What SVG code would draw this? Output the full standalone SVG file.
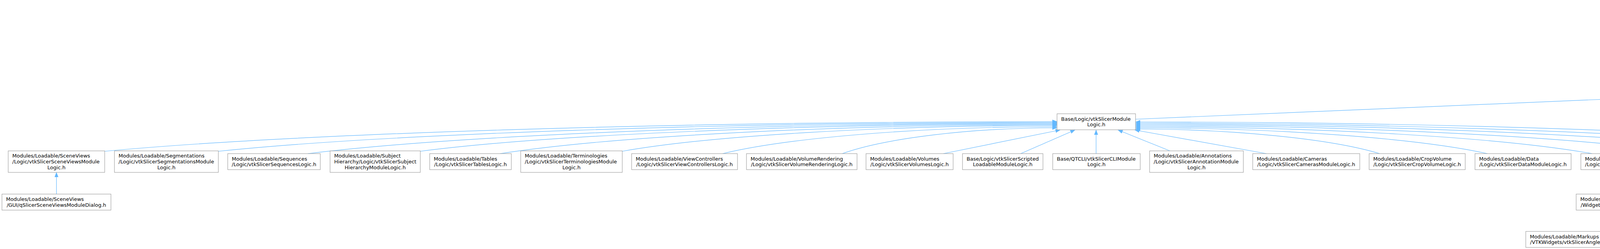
<svg xmlns="http://www.w3.org/2000/svg" width="6853" height="637" viewBox="0 0 6853 637">
<style>
.n rect{fill:#ffffff;stroke:#999999;stroke-width:1.1}
.n.root rect{fill:#999999;stroke:#666666}
.n text{font-family:"DejaVu Sans","Liberation Sans",sans-serif;font-size:13px;fill:#000000}
.n text.c{text-anchor:middle}
.e path{fill:none;stroke:#63b8ff;stroke-width:1.2;marker-end:url(#ah)}
</style>
<defs>
<marker id="ah" markerUnits="userSpaceOnUse" markerWidth="14" markerHeight="11" refX="12" refY="5" orient="auto"><path d="M0,0.4 L12,5 L0,9.6 z" fill="#63b8ff" stroke="#63b8ff" stroke-width="0.6"/></marker>
</defs>
<rect x="0" y="0" width="6853" height="637" fill="#ffffff"/>
<g id="connectors" class="e">
<path d="M5730,93 L5730,45.5"/>
<path d="M5223,190 L5598,134"/>
<path d="M5730,188 L5730,134"/>
<path d="M5957,181 L5798,134"/>
<path d="M2907,305 L4997,216"/>
<path d="M5115,393 L5110,229"/>
<path d="M268,387 C755.6,341.4 1730.8,311 2706,311"/>
<path d="M559,387 C988.4,342.6 1847.2,313 2706,313"/>
<path d="M788,393 C1171.6,346.2 1938.8,315 2706,315"/>
<path d="M1076,387 C1402,345 2054,317 2706,317"/>
<path d="M1280,393 C1565.2,348.6 2135.6,319 2706,319"/>
<path d="M1593,387 C1815.6,347.4 2260.8,321 2706,321"/>
<path d="M1850,393 C2021.2,351.6 2363.6,324 2706,324"/>
<path d="M2156,393 C2266,353.4 2486,327 2706,327"/>
<path d="M2415,393 L2714,332.5"/>
<path d="M2613,393 L2752,332.5"/>
<path d="M2806,393 L2806,332.5"/>
<path d="M2995,386 L2862,332.5"/>
<path d="M3242,393 L2905,332.5"/>
<path d="M3532,393 C3407,355.2 3157,330 2907,330"/>
<path d="M3808,393 C3627.8,353.4 3267.4,327 2907,327"/>
<path d="M4076,393 C3842.2,351.6 3374.6,324 2907,324"/>
<path d="M4321,393 C4038.2,349.8 3472.6,321 2907,321"/>
<path d="M4556,393 C4226.2,348 3566.6,318 2907,318"/>
<path d="M4782,393 C4407,346.2 3657,315 2907,315"/>
<path d="M5037,393 C4611,344.4 3759,312 2907,312"/>
<path d="M144.5,496.5 L144.5,441"/>
<path d="M4158,496.5 L4158,434"/>
<path d="M5401,284 L5642,229"/>
<path d="M5615,284 L5695,229"/>
<path d="M5860,291 L5766,229"/>
<path d="M6184,291 L5843,229"/>
<path d="M6032,386 C6060,330 6085,290 6050,275 C6000,255 5900,240 5853,229"/>
<path d="M5890,386 L5691,339"/>
<path d="M5536,386 L5378,339"/>
<path d="M4735,489.5 C4900,485 5200,480 5240,445 C5270,415 5278,370 5280,339"/>
<path d="M5052,496.5 L5495,436"/>
<path d="M5343,496.5 L5534,441"/>
<path d="M5628,496.5 L5628,441"/>
<path d="M5911,496.5 L5726,441"/>
<path d="M6201,496.5 L5762,437"/>
<path d="M6563,496.5 L5762,432"/>
<path d="M4181,592 L4472,544.5"/>
<path d="M4463,592 L4549,544.5"/>
<path d="M4742,592 L4656,544.5"/>
<path d="M5018,592 L4735,538"/>
<path d="M5491,600 L4735,541"/>
<path d="M5994,600 L4735,544"/>
<path d="M5718,592 L5902,537.5"/>
<path d="M6195,592 L6292,537.5"/>
</g>
<g id="n_slicecompositenode" class="n root"><rect x="5619" y="4.5" width="222" height="41"/><text x="5629.5" y="22.15">Libs/MRML/Core/vtkMRMLSlice</text><text class="c" x="5730" y="36.85">CompositeNode.h</text></g>
<g id="n_mrmlapplicationlogic" class="n"><rect x="5595" y="93" width="269" height="41"/><text x="5605.5" y="110.65">Libs/MRML/Logic/vtkMRMLApplication</text><text class="c" x="5729.5" y="125.35">Logic.h</text></g>
<g id="n_slicerapplicationlogic" class="n"><rect x="4997" y="188" width="226" height="41"/><text x="5007.5" y="205.65">Base/Logic/vtkSlicerApplication</text><text class="c" x="5110" y="220.35">Logic.h</text></g>
<g id="n_abstractwidgetrep" class="n"><rect x="5580" y="188" width="299" height="41"/><text x="5590.5" y="205.65">Libs/MRML/DisplayableManager</text><text class="c" x="5729.5" y="220.35">/vtkMRMLAbstractWidgetRepresentation.h</text></g>
<g id="n_shvolumesplugin" class="n"><rect x="5903" y="181" width="291" height="55"/><text x="5913.5" y="198.3">Modules/Loadable/Volumes</text><text x="5913.5" y="213">/SubjectHierarchyPlugins</text><text class="c" x="6048.5" y="227.7">/qSlicerSubjectHierarchyVolumesPlugin.h</text></g>
<g id="n_modulelogic" class="n"><rect x="2706" y="291" width="201" height="41"/><text x="2716.5" y="308.65">Base/Logic/vtkSlicerModule</text><text class="c" x="2806.5" y="323.35">Logic.h</text></g>
<g id="n_markupswidgetrep" class="n"><rect x="5147" y="284" width="267" height="55"/><text x="5157.5" y="301.3">Modules/Loadable/Markups</text><text x="5157.5" y="316">/VTKWidgets/vtkSlicerMarkupsWidget</text><text class="c" x="5280.5" y="330.7">Representation.h</text></g>
<g id="n_sliceintinteractionhelper" class="n"><rect x="5439" y="284" width="265" height="55"/><text x="5449.5" y="301.3">Libs/MRML/DisplayableManager</text><text x="5449.5" y="316">/vtkMRMLSliceIntersectionInteraction</text><text class="c" x="5571.5" y="330.7">RepresentationHelper.h</text></g>
<g id="n_sliceintrep2d" class="n"><rect x="5728" y="291" width="324" height="41"/><text x="5738.5" y="308.65">Libs/MRML/DisplayableManager</text><text class="c" x="5890" y="323.35">/vtkMRMLSliceIntersectionRepresentation2D.h</text></g>
<g id="n_rubberband" class="n"><rect x="6127" y="291" width="323" height="41"/><text x="6137.5" y="308.65">Libs/MRML/DisplayableManager</text><text class="c" x="6288.5" y="323.35">/vtkMRMLRubberBandWidgetRepresentation.h</text></g>
<g id="n_sceneviews" class="n"><rect x="21" y="386" width="247" height="55"/><text x="31.5" y="403.3">Modules/Loadable/SceneViews</text><text x="31.5" y="418">/Logic/vtkSlicerSceneViewsModule</text><text class="c" x="144.5" y="432.7">Logic.h</text></g>
<g id="n_segmentations" class="n"><rect x="293" y="386" width="266" height="55"/><text x="303.5" y="403.3">Modules/Loadable/Segmentations</text><text x="303.5" y="418">/Logic/vtkSlicerSegmentationsModule</text><text class="c" x="426" y="432.7">Logic.h</text></g>
<g id="n_sequences" class="n"><rect x="583" y="393" width="237" height="41"/><text x="593.5" y="410.65">Modules/Loadable/Sequences</text><text class="c" x="701.5" y="425.35">/Logic/vtkSlicerSequencesLogic.h</text></g>
<g id="n_subjecthierarchy" class="n"><rect x="845" y="386" width="231" height="55"/><text x="855.5" y="403.3">Modules/Loadable/Subject</text><text x="855.5" y="418">Hierarchy/Logic/vtkSlicerSubject</text><text class="c" x="960.5" y="432.7">HierarchyModuleLogic.h</text></g>
<g id="n_tables" class="n"><rect x="1100" y="393" width="209" height="41"/><text x="1110.5" y="410.65">Modules/Loadable/Tables</text><text class="c" x="1204.5" y="425.35">/Logic/vtkSlicerTablesLogic.h</text></g>
<g id="n_terminologies" class="n"><rect x="1333" y="386" width="260" height="55"/><text x="1343.5" y="403.3">Modules/Loadable/Terminologies</text><text x="1343.5" y="418">/Logic/vtkSlicerTerminologiesModule</text><text class="c" x="1463" y="432.7">Logic.h</text></g>
<g id="n_viewcontrollers" class="n"><rect x="1617" y="393" width="271" height="41"/><text x="1627.5" y="410.65">Modules/Loadable/ViewControllers</text><text class="c" x="1752.5" y="425.35">/Logic/vtkSlicerViewControllersLogic.h</text></g>
<g id="n_volumerendering" class="n"><rect x="1911" y="393" width="283" height="41"/><text x="1921.5" y="410.65">Modules/Loadable/VolumeRendering</text><text class="c" x="2052.5" y="425.35">/Logic/vtkSlicerVolumeRenderingLogic.h</text></g>
<g id="n_volumes" class="n"><rect x="2217" y="393" width="223" height="41"/><text x="2227.5" y="410.65">Modules/Loadable/Volumes</text><text class="c" x="2328.5" y="425.35">/Logic/vtkSlicerVolumesLogic.h</text></g>
<g id="n_scripted" class="n"><rect x="2464" y="393" width="206" height="41"/><text x="2474.5" y="410.65">Base/Logic/vtkSlicerScripted</text><text class="c" x="2567" y="425.35">LoadableModuleLogic.h</text></g>
<g id="n_cli" class="n"><rect x="2695" y="393" width="224" height="41"/><text x="2705.5" y="410.65">Base/QTCLI/vtkSlicerCLIModule</text><text class="c" x="2807" y="425.35">Logic.h</text></g>
<g id="n_annotations" class="n"><rect x="2943" y="386" width="240" height="55"/><text x="2953.5" y="403.3">Modules/Loadable/Annotations</text><text x="2953.5" y="418">/Logic/vtkSlicerAnnotationModule</text><text class="c" x="3063" y="432.7">Logic.h</text></g>
<g id="n_cameras" class="n"><rect x="3207" y="393" width="274" height="41"/><text x="3217.5" y="410.65">Modules/Loadable/Cameras</text><text class="c" x="3344" y="425.35">/Logic/vtkSlicerCamerasModuleLogic.h</text></g>
<g id="n_cropvolume" class="n"><rect x="3505" y="393" width="246" height="41"/><text x="3515.5" y="410.65">Modules/Loadable/CropVolume</text><text class="c" x="3628" y="425.35">/Logic/vtkSlicerCropVolumeLogic.h</text></g>
<g id="n_data" class="n"><rect x="3776" y="393" width="246" height="41"/><text x="3786.5" y="410.65">Modules/Loadable/Data</text><text class="c" x="3899" y="425.35">/Logic/vtkSlicerDataModuleLogic.h</text></g>
<g id="n_markupslogic" class="n"><rect x="4047" y="393" width="222" height="41"/><text x="4057.5" y="410.65">Modules/Loadable/Markups</text><text class="c" x="4158" y="425.35">/Logic/vtkSlicerMarkupsLogic.h</text></g>
<g id="n_models" class="n"><rect x="4293" y="393" width="215" height="41"/><text x="4303.5" y="410.65">Modules/Loadable/Models</text><text class="c" x="4400.5" y="425.35">/Logic/vtkSlicerModelsLogic.h</text></g>
<g id="n_plots" class="n"><rect x="4532" y="393" width="199" height="41"/><text x="4542.5" y="410.65">Modules/Loadable/Plots</text><text class="c" x="4631.5" y="425.35">/Logic/vtkSlicerPlotsLogic.h</text></g>
<g id="n_reformat" class="n"><rect x="4755" y="393" width="227" height="41"/><text x="4765.5" y="410.65">Modules/Loadable/Reformat</text><text class="c" x="4868.5" y="425.35">/Logic/vtkSlicerReformatLogic.h</text></g>
<g id="n_dataiomanager" class="n"><rect x="5007" y="393" width="219" height="41"/><text x="5017.5" y="410.65">Base/Logic/vtkDataIOManager</text><text class="c" x="5116.5" y="425.35">Logic.h</text></g>
<g id="n_mwr3d" class="n"><rect x="5495" y="386" width="267" height="55"/><text x="5505.5" y="403.3">Modules/Loadable/Markups</text><text x="5505.5" y="418">/VTKWidgets/vtkSlicerMarkupsWidget</text><text class="c" x="5628.5" y="432.7">Representation3D.h</text></g>
<g id="n_sliceintinteractionrep" class="n"><rect x="5871" y="386" width="266" height="55"/><text x="5881.5" y="403.3">Libs/MRML/DisplayableManager</text><text x="5881.5" y="418">/vtkMRMLSliceIntersectionInteraction</text><text class="c" x="6004" y="432.7">Representation.h</text></g>
<g id="n_sceneviewsdialog" class="n"><rect x="5" y="496.5" width="279" height="41"/><text x="15.5" y="514.15">Modules/Loadable/SceneViews</text><text class="c" x="144.5" y="528.85">/GUI/qSlicerSceneViewsModuleDialog.h</text></g>
<g id="n_markupstoolbar" class="n"><rect x="4035" y="496.5" width="245" height="41"/><text x="4045.5" y="514.15">Modules/Loadable/Markups</text><text class="c" x="4157.5" y="528.85">/Widgets/qMRMLMarkupsToolBar.h</text></g>
<g id="n_mwr2d" class="n"><rect x="4468" y="489.5" width="267" height="55"/><text x="4478.5" y="506.8">Modules/Loadable/Markups</text><text x="4478.5" y="521.5">/VTKWidgets/vtkSlicerMarkupsWidget</text><text class="c" x="4601.5" y="536.2">Representation2D.h</text></g>
<g id="n_curve3d" class="n"><rect x="4760" y="496.5" width="332" height="41"/><text x="4770.5" y="514.15">Modules/Loadable/Markups</text><text class="c" x="4926" y="528.85">/VTKWidgets/vtkSlicerCurveRepresentation3D.h</text></g>
<g id="n_line3d" class="n"><rect x="5116" y="496.5" width="321" height="41"/><text x="5126.5" y="514.15">Modules/Loadable/Markups</text><text class="c" x="5276.5" y="528.85">/VTKWidgets/vtkSlicerLineRepresentation3D.h</text></g>
<g id="n_points3d" class="n"><rect x="5461" y="496.5" width="334" height="41"/><text x="5471.5" y="514.15">Modules/Loadable/Markups</text><text class="c" x="5628" y="528.85">/VTKWidgets/vtkSlicerPointsRepresentation3D.h</text></g>
<g id="n_roi3d" class="n"><rect x="5820" y="496.5" width="318" height="41"/><text x="5830.5" y="514.15">Modules/Loadable/Markups</text><text class="c" x="5979" y="528.85">/VTKWidgets/vtkSlicerROIRepresentation3D.h</text></g>
<g id="n_plane3d" class="n"><rect x="6161" y="496.5" width="332" height="41"/><text x="6171.5" y="514.15">Modules/Loadable/Markups</text><text class="c" x="6327" y="528.85">/VTKWidgets/vtkSlicerPlaneRepresentation3D.h</text></g>
<g id="n_angle3d" class="n"><rect x="6517" y="496.5" width="330" height="41"/><text x="6527.5" y="514.15">Modules/Loadable/Markups</text><text class="c" x="6682" y="528.85">/VTKWidgets/vtkSlicerAngleRepresentation3D.h</text></g>
<g id="n_angle2d" class="n"><rect x="3906" y="592" width="331" height="41"/><text x="3916.5" y="609.65">Modules/Loadable/Markups</text><text class="c" x="4071.5" y="624.35">/VTKWidgets/vtkSlicerAngleRepresentation2D.h</text></g>
<g id="n_curve2d" class="n"><rect x="4261" y="592" width="332" height="41"/><text x="4271.5" y="609.65">Modules/Loadable/Markups</text><text class="c" x="4427" y="624.35">/VTKWidgets/vtkSlicerCurveRepresentation2D.h</text></g>
<g id="n_line2d" class="n"><rect x="4617" y="592" width="321" height="41"/><text x="4627.5" y="609.65">Modules/Loadable/Markups</text><text class="c" x="4777.5" y="624.35">/VTKWidgets/vtkSlicerLineRepresentation2D.h</text></g>
<g id="n_points2d" class="n"><rect x="4963" y="592" width="334" height="41"/><text x="4973.5" y="609.65">Modules/Loadable/Markups</text><text class="c" x="5130" y="624.35">/VTKWidgets/vtkSlicerPointsRepresentation2D.h</text></g>
<g id="n_roi2d" class="n"><rect x="5491" y="592" width="317" height="41"/><text x="5501.5" y="609.65">Modules/Loadable/Markups</text><text class="c" x="5649.5" y="624.35">/VTKWidgets/vtkSlicerROIRepresentation2D.h</text></g>
<g id="n_plane2d" class="n"><rect x="5994" y="592" width="330" height="41"/><text x="6004.5" y="609.65">Modules/Loadable/Markups</text><text class="c" x="6159" y="624.35">/VTKWidgets/vtkSlicerPlaneRepresentation2D.h</text></g>
</svg>
